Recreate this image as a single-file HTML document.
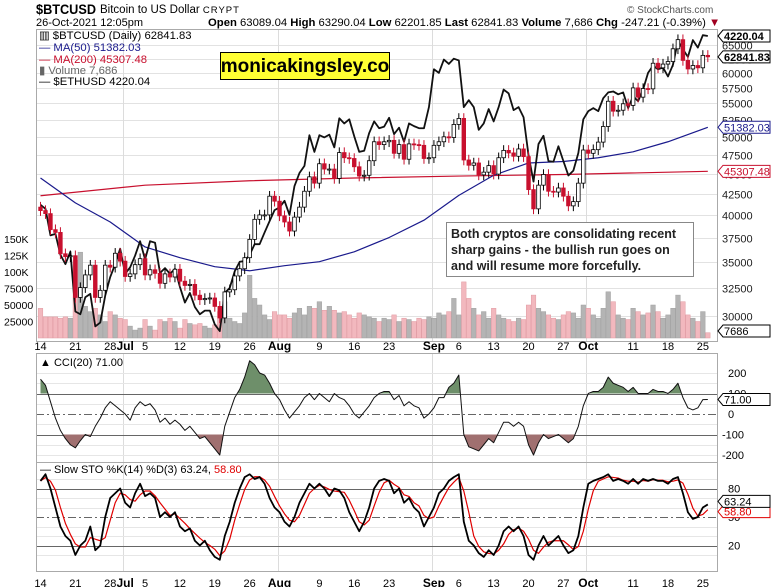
<!DOCTYPE html>
<html><head><meta charset="utf-8"><style>
body{margin:0;background:#fff;}
svg{display:block;font-family:"Liberation Sans",sans-serif;}
</style></head><body>
<svg id="c" width="772" height="587" viewBox="0 0 772 587" xmlns="http://www.w3.org/2000/svg">
<g id="hdr">
<text x="36" y="14" font-size="14" font-weight="bold" textLength="60" lengthAdjust="spacingAndGlyphs">$BTCUSD</text>
<text x="100" y="13" font-size="11.5">Bitcoin to US Dollar <tspan font-size="9.5" letter-spacing="1">CRYPT</tspan></text>
<text x="36" y="26" font-size="11">26-Oct-2021 12:05pm</text>
<text x="208" y="26" font-size="11.3"><tspan font-weight="bold">Open</tspan> 63089.04 <tspan font-weight="bold">High</tspan> 63290.04 <tspan font-weight="bold">Low</tspan> 62201.85 <tspan font-weight="bold">Last</tspan> 62841.83 <tspan font-weight="bold">Volume</tspan> 7,686 <tspan font-weight="bold">Chg</tspan> -247.21 (-0.39%) <tspan fill="#a00020">▼</tspan></text>
<text x="627" y="13" font-size="10" fill="#555">© StockCharts.com</text>
</g>
<g id="grid"></g>
<g id="vol"></g>
<g id="lines"></g>
<g id="candles"></g>
<g id="ind"></g>
<g id="axes"></g>
<g id="legend" font-size="11.3">
<text x="39" y="39">▥ $BTCUSD (Daily) 62841.83</text>
<text x="39" y="51" fill="#1a1a8c">— MA(50) 51382.03</text>
<text x="39" y="63" fill="#c8102e">— MA(200) 45307.48</text>
<text x="39" y="74" fill="#666">▮ Volume 7,686</text>
<text x="39" y="85">— $ETHUSD 4220.04</text>
</g>
<g>
<rect x="220.5" y="52.5" width="169" height="27" fill="#ffff33" stroke="#000"/>
<text x="305" y="72" font-size="19" font-weight="bold" text-anchor="middle">monicakingsley.co</text>
</g>
<g>
<rect x="446.5" y="222.5" width="247" height="54" fill="#fff" stroke="#888"/>
<text x="451" y="238" font-size="12.5" font-weight="bold" fill="#222">Both cryptos are consolidating recent</text>
<text x="451" y="254" font-size="12.5" font-weight="bold" fill="#222">sharp gains - the bullish run goes on</text>
<text x="451" y="270" font-size="12.5" font-weight="bold" fill="#222">and will resume more forcefully.</text>
</g>
</svg>
<script>
// ---- data ----
const btcClose=[40500,40150,38350,38050,35800,35500,35600,31600,32500,33700,34650,31600,32250,34650,34450,35850,35050,
33550,33800,34700,35300,33700,34200,33850,32900,33800,33500,34250,33100,32700,32800,31800,31400,31500,31550,30800,29800,32100,32300,33600,34300,35400,37300,39500,40000,40000,42200,41600,
39900,39200,38200,39750,40900,42800,44600,43800,46300,45600,45600,44400,47800,47100,47000,45900,44700,44800,46700,49300,48900,49300,49500,47700,48900,46900,49000,48900,48800,47000,47100,
48800,49300,50000,49900,51800,52700,46800,46100,46400,44850,45200,46050,44950,47100,48100,47750,47300,48300,47250,43000,40700,43550,44900,42800,42700,43200,42200,41050,41550,43800,
48150,47700,48200,49250,51500,55350,53800,53950,54950,54700,57500,56000,57400,57350,61700,60900,61550,62000,64300,66000,62200,60700,61300,60900,63100,62842];
const btcOpen0=40900;
const ethClose=[2580,2550,2360,2370,2230,2170,2250,1890,1875,1970,1990,1810,1830,1980,2090,2170,2270,
2110,2150,2225,2320,2200,2320,2310,2115,2145,2110,2140,2030,1940,1995,1915,1875,1895,1895,1820,1785,1995,2025,2125,2185,2190,2230,2300,2300,2380,2460,2540,
2560,2610,2505,2725,2830,2890,3160,3010,3160,3140,3165,3050,3320,3270,3310,3150,3010,3020,3180,3290,3225,3240,3325,3170,3230,3100,3270,3245,3225,3225,3430,
3830,3790,3940,3890,3950,3930,3430,3500,3430,3210,3270,3410,3290,3430,3610,3570,3400,3430,3330,2980,2760,3080,3155,2930,2925,3060,2930,2810,2850,3000,
3310,3390,3420,3390,3520,3580,3590,3560,3580,3420,3540,3490,3610,3790,3870,3830,3850,3750,3880,4160,4060,3970,4170,4080,4230,4220];
const volumeK=[45,32,32,32,30,32,30,118,130,48,40,45,35,25,40,35,30,28,18,12,15,28,18,12,28,25,30,25,15,28,22,20,22,18,15,20,40,55,30,25,22,38,95,60,50,35,28,40,35,35,30,38,45,35,48,45,55,42,48,42,38,40,35,30,38,35,32,30,25,30,28,35,25,30,28,25,30,28,32,30,38,35,40,60,35,85,60,45,35,40,30,45,35,30,28,25,30,28,50,65,45,40,35,30,28,35,40,38,30,50,45,35,30,45,70,55,35,30,28,45,40,35,38,50,40,30,35,45,65,55,35,30,25,40,8];
const ma50Day=[0,7,14,21,28,35,42,49,56,63,70,77,84,91,98,105,112,119,126,134];
const ma50Val=[44450,41400,39200,36500,35400,34500,34100,34600,35000,36000,37500,39400,42300,44800,46400,46600,47100,47900,49300,51382];
const ma200Day=[0,21,42,63,84,105,134];
const ma200Val=[42250,43550,44100,44450,44700,44900,45307];
const cci=[170,140,60,-20,-80,-120,-150,-165,-130,-100,-110,-60,-20,30,60,40,20,0,-30,30,60,40,50,20,-40,-20,-50,-30,-50,-80,-60,-90,-120,-110,-140,-170,-200,-60,10,80,120,180,260,240,200,190,150,100,70,20,-20,10,40,80,100,70,100,80,60,100,80,70,40,0,-20,10,40,80,100,110,110,70,90,40,60,40,30,-20,0,30,80,80,130,150,190,-100,-160,-170,-180,-150,-120,-140,-90,-40,-40,-60,-40,-60,-150,-200,-140,-100,-120,-110,-100,-120,-140,-120,-60,40,100,110,110,130,180,150,140,130,110,130,100,100,100,120,110,110,100,120,150,80,30,20,30,70,71];
const stoK=[88,95,80,60,40,30,25,10,20,25,40,15,20,50,70,75,80,65,60,75,85,72,75,70,50,55,50,55,40,35,38,25,20,25,15,8,5,30,45,65,80,92,95,90,92,85,70,60,55,45,40,50,65,75,85,80,85,80,72,80,78,70,55,45,35,45,60,80,88,90,88,75,80,65,70,60,55,40,50,60,75,80,88,92,95,45,25,20,12,8,15,10,20,35,40,35,40,30,10,5,20,30,20,25,30,20,12,15,30,60,85,88,90,92,95,88,90,88,85,90,85,90,88,90,88,88,85,90,92,75,55,48,50,60,63.24];
const priceTicks=[65000,62500,60000,57500,55000,52500,50000,47500,45000,42500,40000,37500,35000,32500,30000];
const volTicks=[25000,50000,75000,100000,125000,150000];
const volTickLabels=["25000","50000","75000","100K","125K","150K"];
const cciTicks=[200,100,0,-100,-200];
const stoTicks=[80,50,20];
const dateDays=[0,7,14,17,21,28,35,42,48,56,63,70,79,84,91,98,105,110,119,126,133];
const dateLabels=["14","21","28","Jul","5","12","19","26","Aug","9","16","23","Sep","6","13","20","27","Oct","11","18","25"];
const monthStart=[17,48,79,110];

// ---- scales ----
const X0=36,X1=717;
const xs=d=>40.5+4.98*d;
const py=p=>45+350*Math.log(65000/p);
const ey=e=>36+343*Math.log(4220/e);
const vy=v=>338-v*16.5/25000;
const cy=v=>414-v*0.205;
const sy=v=>564.5-v*0.95;
const NS="http://www.w3.org/2000/svg";
function mk(tag,attrs,parent){const e=document.createElementNS(NS,tag);for(const k in attrs)e.setAttribute(k,attrs[k]);document.getElementById(parent).appendChild(e);return e;}
const n=Math.min(btcClose.length,ethClose.length);

// panels & grid
[[29,341],[353,462],[462,571]].forEach((p,i)=>{
 const r=mk('rect',{x:X0+.5,y:p[0]+.5,width:X1-X0,height:p[1]-p[0],fill:'none',stroke:'#aaa'},'axes');
 
 
});
priceTicks.forEach(t=>{
 const y=Math.round(py(t))+.5;
 const l=mk('line',{x1:X0,x2:X1,y1:y,y2:y,stroke:'#e2e2e2'},'grid');
 
 
 const tx=mk('text',{x:722,y:y+4,'font-size':11,fill:'#222'},'axes');tx.textContent=t;
 
 
});
monthStart.forEach(d=>{
 const x=Math.round(xs(d)-2)+.5;
 [[29,341],[353,571]].forEach(r=>{
 const l=mk('line',{x1:x,x2:x,y1:r[0],y2:r[1],stroke:'#dcdcdc'},'grid');
 
 });
});
[-200,-150,-100,-50,0,50,100,150,200].forEach(t=>{const y=Math.round(cy(t))+.5;
 const l=mk('line',{x1:X0,x2:X1,y1:y,y2:y,stroke:(t==100||t==-100)?'#666':(t==0?'#666':'#e6e6e6'),'stroke-dasharray':t==0?'8,3,2,3':''},'grid');
 
 });
[10,20,30,40,50,60,70,80,90].forEach(t=>{const y=Math.round(sy(t))+.5;
 const l=mk('line',{x1:X0,x2:X1,y1:y,y2:y,stroke:(t==80||t==20||t==50)?'#666':'#e6e6e6','stroke-dasharray':t==50?'8,3,2,3':''},'grid');
 
 });
cciTicks.forEach(t=>{const tx=mk('text',{x:t<0?722:728,y:cy(t)+4,'font-size':11},'axes');tx.textContent=t;
 
 });
stoTicks.forEach(t=>{const tx=mk('text',{x:728,y:sy(t)+4,'font-size':11},'axes');tx.textContent=t;
 
 });
volTicks.forEach((t,i)=>{const tx=mk('text',{x:4,y:vy(t)+4,'font-size':10.5},'axes');tx.textContent=volTickLabels[i];
 
 });
dateDays.forEach((d,i)=>{[345,582].forEach(y=>{
 const b=/[A-Za-z]/.test(dateLabels[i]);
 const tx=mk('text',{x:xs(d),y:y+5,'font-size':b?12:11,'font-weight':b?'bold':'normal','text-anchor':'middle'},'axes');tx.textContent=dateLabels[i];
 
 });});

// volume
for(let i=0;i<n;i++){
 const o=i?btcClose[i-1]:btcOpen0,up=btcClose[i]>=o,x=xs(i);
 const r=mk('rect',{x:x-2.3,y:vy(volumeK[i]*1000),width:4.6,height:338-vy(volumeK[i]*1000),fill:up?'#b4b4b4':'#f2b8be',stroke:up?'#a0a0a0':'#e09aa2','stroke-width':.5},'vol');
 
 
}
// MAs & ETH
function pl(pts,col,w,name,parent){const p=mk('polyline',{points:pts.map(q=>q.join(',')).join(' '),fill:'none',stroke:col,'stroke-width':w,'stroke-linejoin':'round'},parent);
 
 return p;}
pl(ma200Day.map((d,i)=>[xs(d),py(ma200Val[i])]),'#c8102e',1.2,'ma200-line','lines');
pl(ma50Day.map((d,i)=>[xs(d),py(ma50Val[i])]),'#1a1a8c',1.2,'ma50-line','lines');
// candles
for(let i=0;i<n;i++){
 const o=i?btcClose[i-1]:btcOpen0,c=btcClose[i],up=c>=o,x=xs(i);
 const hi=Math.max(o,c)*1.015,lo=Math.min(o,c)*0.985;
 const w=mk('line',{x1:x,x2:x,y1:py(hi),y2:py(lo),stroke:up?'#000':'#c8102e'},'candles');
 
 
 const t=py(Math.max(o,c)),b=py(Math.min(o,c));
 const r=mk('rect',{x:x-1.8,y:t,width:3.6,height:Math.max(1,b-t),fill:up?'#fff':'#c8102e',stroke:up?'#000':'#c8102e','stroke-width':.8},'candles');
 
 
}
pl(ethClose.slice(0,n).map((e,i)=>[xs(i),ey(e)]),'#111',1.8,'eth-line','lines');
// CCI fills
function fillArea(vals,thr,col,name){
 const pts=vals.map((v,i)=>[xs(i),cy(v)]);
 let seg=[];
 const flush=()=>{if(seg.length>1){const a=[[seg[0][0],cy(thr)],...seg,[seg[seg.length-1][0],cy(thr)]];
  const p=mk('polygon',{points:a.map(q=>q.join(',')).join(' '),fill:col,stroke:'none'},'ind');
  
  }seg=[];};
 for(let i=0;i<vals.length;i++){
  const above=thr>0?vals[i]>thr:vals[i]<thr;
  if(i>0){const pa=thr>0?vals[i-1]>thr:vals[i-1]<thr;
   if(pa!==above){const t=(thr-vals[i-1])/(vals[i]-vals[i-1]);seg.push([xs(i-1)+t*(xs(i)-xs(i-1)),cy(thr)]);if(!above)flush();}}
  if(above)seg.push(pts[i]);
 }
 flush();
}
fillArea(cci,100,'#6e8f6a','cci-overbought-fill');
fillArea(cci,-100,'#a07070','cci-oversold-fill');
pl(cci.map((v,i)=>[xs(i),cy(v)]),'#111',1,'cci-line','ind');
// stochastic
const stoD=stoK.map((v,i)=>{const a=stoK.slice(Math.max(0,i-2),i+1);return a.reduce((s,x)=>s+x,0)/a.length;});
pl(stoD.map((v,i)=>[xs(i),sy(v)]),'#e00000',1.2,'stoch-d-line','ind');
pl(stoK.map((v,i)=>[xs(i),sy(v)]),'#000',1.8,'stoch-k-line','ind');
// indicator labels
let t=mk('text',{x:40,y:366,'font-size':11},'ind');t.textContent='▲ CCI(20) 71.00';


t=mk('text',{x:40,y:473,'font-size':11},'ind');t.innerHTML='— Slow STO %K(14) %D(3) 63.24, <tspan fill="#e00000">58.80</tspan>';


// value tags
function tag(y,txt,col,bold,name,fill){
 const g=mk('g',{},'axes');
 
 
 const p=document.createElementNS(NS,'polygon');p.setAttribute('points',`718,${y} 723,${y-6} 770,${y-6} 770,${y+6} 723,${y+6}`);p.setAttribute('fill',fill||'#fff');p.setAttribute('stroke',col);g.appendChild(p);
 const tx=document.createElementNS(NS,'text');tx.setAttribute('x',724);tx.setAttribute('y',y+4);tx.setAttribute('font-size',11);tx.setAttribute('fill',col);if(bold)tx.setAttribute('font-weight','bold');tx.textContent=txt;g.appendChild(tx);
}
tag(ey(ethClose[n-1]),'4220.04','#000',true,'eth-last-tag');
tag(py(btcClose[n-1]),'62841.83','#000',true,'btc-last-tag');
tag(py(ma50Val[ma50Val.length-1]),'51382.03','#1a1a8c',false,'ma50-tag');
tag(py(ma200Val[ma200Val.length-1]),'45307.48','#c8102e',false,'ma200-tag');
tag(331,'7686','#000',false,'volume-tag');
tag(cy(cci[cci.length-1]),'71.00','#000',false,'cci-tag');
tag(sy(58.8)+3,'58.80','#e00000',false,'stoch-d-tag');
tag(sy(stoK[stoK.length-1])-3,'63.24','#000',false,'stoch-k-tag');
</script>
</body></html>
